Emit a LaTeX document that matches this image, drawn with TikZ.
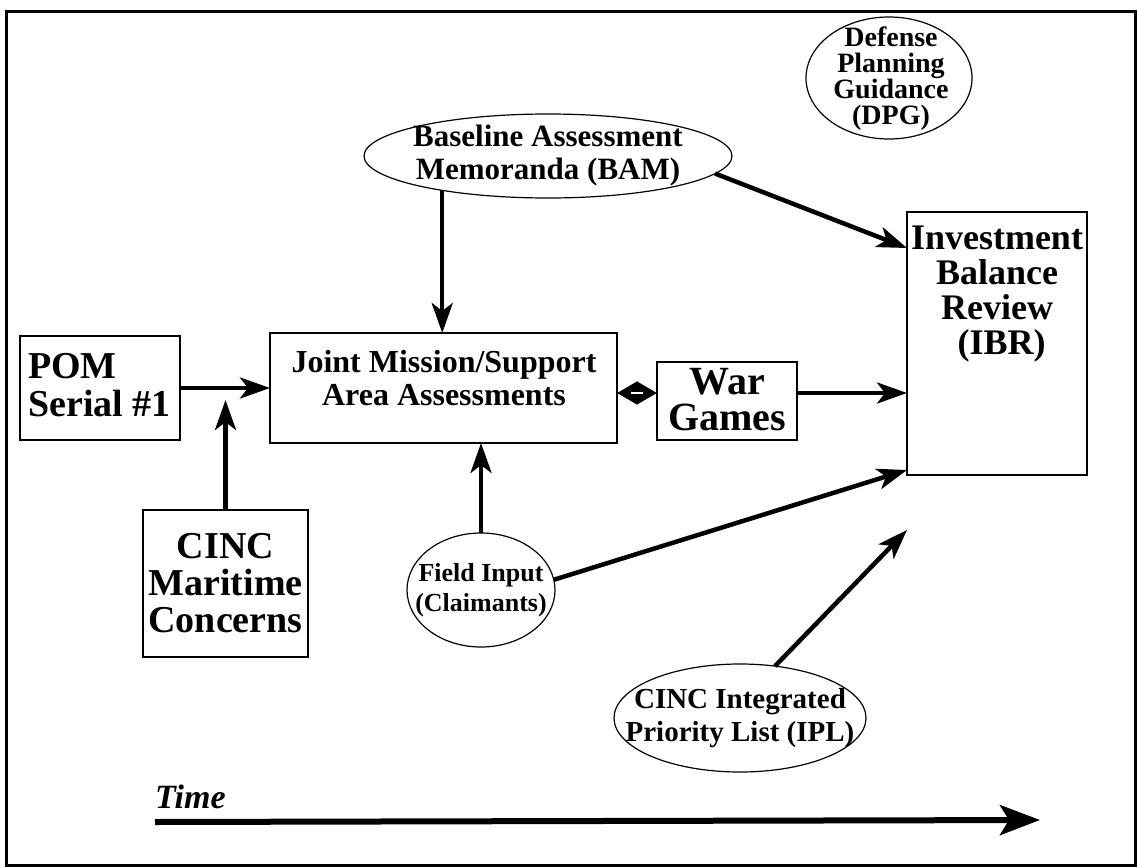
\documentclass[tikz,border=0pt]{standalone}
\usepackage{fontspec}
\setmainfont{Liberation Serif}
\usetikzlibrary{arrows.meta,shapes.geometric}
\newcommand{\myfs}[2]{\fontsize{#1}{#2}\selectfont}
\begin{document}
\begin{tikzpicture}[x=1pt,y=-1pt,
  shp/.style={draw,line width=1.2pt,inner sep=0pt,outer sep=0pt},
  rbox/.style={shp,rectangle,anchor=north west},
  oval/.style={shp,ellipse},
  txt/.style={inner sep=0pt,align=center,font=\bfseries},
  conn/.style={line width=4.5pt,-{Stealth[length=30pt,width=21pt,inset=8pt]}},
]
\useasboundingbox (0,0) rectangle (1137,867);
\draw[line width=3pt] (6,12) rectangle (1135,865);

% shapes
\node[oval,minimum width=166pt,minimum height=122pt] (dpg) at (889,78) {};
\node[txt,font=\bfseries\myfs{28}{26}] (dpgt) at (891,79) {Defense\\Planning\\Guidance\\(DPG)};

\node[oval,minimum width=368pt,minimum height=84pt] (bam) at (548,156) {};
\node[txt,font=\bfseries\myfs{31}{33}] (bamt) at (bam) {Baseline Assessment\\Memoranda (BAM)};

\node[rbox,minimum width=160pt,minimum height=104pt] (pom) at (20,336) {};
\node[txt,align=left,anchor=west,font=\bfseries\myfs{38}{38}] (pomt) at (28,385) {POM\\Serial \#1};

\node[rbox,minimum width=347pt,minimum height=110pt] (joint) at (270,333) {};
\node[txt,font=\bfseries\myfs{32}{33}] (jointt) at (444,378) {Joint Mission/Support\\Area Assessments};

\node[rbox,minimum width=140pt,minimum height=78pt] (war) at (657,362) {};
\node[txt,font=\bfseries\myfs{40}{36}] (wart) at (727,400) {War\\Games};

\node[rbox,minimum width=180pt,minimum height=263pt] (ibr) at (907,212) {};
\node[txt,anchor=north,font=\bfseries\myfs{36}{35}] (ibrt) at (997,226) {Investment\\Balance\\Review\\\ (IBR)};

\node[rbox,minimum width=165pt,minimum height=147pt] (cinc) at (143,510) {};
\node[txt,font=\bfseries\myfs{38}{37}] (cinct) at (cinc) {CINC\\Maritime\\Concerns};

\node[oval,minimum width=148pt,minimum height=114pt] (field) at (481,590) {};
\node[txt,font=\bfseries\myfs{26}{30}] (fieldt) at (field) {Field Input\\(Claimants)};

\node[oval,minimum width=252pt,minimum height=108pt] (ipl) at (740,718) {};
\node[txt,font=\bfseries\myfs{29}{33}] (iplt) at (ipl) {CINC Integrated\\Priority List (IPL)};

\node[inner sep=0pt,anchor=base west,font=\bfseries\itshape\myfs{34}{34}] (time) at (155,808) {Time};

% connector end points
\coordinate (cm) at (225.5,400);
\coordinate (ibrA) at (907,248);
\coordinate (ibrB) at (907,393);
\coordinate (ibrC) at (907,470);
\coordinate (ibrD) at (907,530);
\coordinate (t0) at (155,822);
\coordinate (t1) at (1040,820);

% connectors
\draw[conn] (pom.east) -- (pom.east -| joint.west);
\draw[conn] (cinc.north) -- (cm);
\draw[conn] (bam.198) -- (bam.198 |- joint.north);
\draw[conn] (field.north) -- (field.north |- joint.south);
\draw[line width=4pt,{Stealth[length=20pt,width=22pt,inset=0pt]}-{Stealth[length=20pt,width=22pt,inset=0pt]}] (joint.east |- ibrB) -- (war.west |- ibrB);
\draw[white,line width=1.2pt] (631,393) -- (643,393);
\draw[conn] (war.east |- ibrB) -- (ibrB);
\draw[conn] (bam.-6) -- (ibrA);
\draw[conn] (field.8) -- (ibrC);
\draw[conn] (ipl.56) -- (ibrD);
\draw[line width=6pt,-{Stealth[length=40pt,width=30pt,inset=9pt]}] (t0) -- (t1);
\end{tikzpicture}
\end{document}
